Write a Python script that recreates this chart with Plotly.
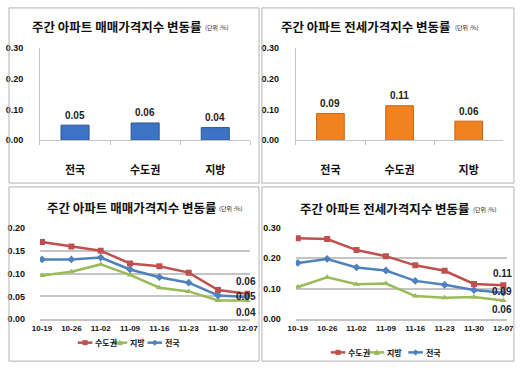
import plotly.graph_objects as go

# ---------------- data ----------------
bar_categories = ["전국", "수도권", "지방"]
sale_bar_values = [0.049, 0.056, 0.041]
jeonse_bar_values = [0.087, 0.112, 0.062]

weeks = ["10-19", "10-26", "11-02", "11-09", "11-16", "11-23", "11-30", "12-07"]
series_names = ["수도권", "지방", "전국"]
sale_capital = [0.169, 0.159, 0.150, 0.122, 0.116, 0.102, 0.064, 0.056]
sale_regional = [0.096, 0.104, 0.120, 0.097, 0.069, 0.061, 0.041, 0.041]
sale_national = [0.131, 0.131, 0.135, 0.109, 0.092, 0.080, 0.052, 0.049]
jeonse_capital = [0.266, 0.263, 0.227, 0.207, 0.177, 0.159, 0.116, 0.112]
jeonse_regional = [0.106, 0.138, 0.115, 0.117, 0.076, 0.071, 0.073, 0.062]
jeonse_national = [0.185, 0.198, 0.170, 0.160, 0.126, 0.113, 0.096, 0.087]

title_sale = "주간 아파트 매매가격지수 변동률"
title_jeonse = "주간 아파트 전세가격지수 변동률"
unit_text = "(단위 :%)"

# ---------------- style ----------------
W, H = 520, 371
KR = "Noto Sans CJK KR"
NUM = "Liberation Sans"
RED, GREEN, BLUE = "#c0504d", "#9bbb59", "#4f81bd"
GRID = "#c4c4c4"
BORDER = "#b3b3b3"


def X(px):
    return px / W


def Y(py):
    return 1 - py / H


fig = go.Figure()

# bars
fig.add_trace(go.Bar(x=bar_categories, y=sale_bar_values, width=0.4,
                     marker=dict(color="#3d73c4", line=dict(color="#2a5596", width=1)),
                     xaxis="x", yaxis="y", showlegend=False, hoverinfo="skip"))
fig.add_trace(go.Bar(x=bar_categories, y=jeonse_bar_values, width=0.4,
                     marker=dict(color="#f2821f", line=dict(color="#c8620f", width=1)),
                     xaxis="x2", yaxis="y2", showlegend=False, hoverinfo="skip"))

line_sets = [
    ("x3", "y3", [sale_capital, sale_regional, sale_national], [12, -12, 0]),
    ("x4", "y4", [jeonse_capital, jeonse_regional, jeonse_national], [12, -9, 1]),
]
colors = [RED, GREEN, BLUE]
symbols = ["square", "triangle-up", "diamond"]
annotations = []
for xa, ya, sets, shifts in line_sets:
    for name, vals, c, s, shift in zip(series_names, sets, colors, symbols, shifts):
        fig.add_trace(go.Scatter(x=weeks, y=vals, mode="lines+markers", name=name,
                                 line=dict(color=c, width=2.5),
                                 marker=dict(symbol=s, size=6, color=c),
                                 xaxis=xa, yaxis=ya, showlegend=False, hoverinfo="skip"))
        annotations.append(dict(x=weeks[-1], y=vals[-1], xref=xa, yref=ya,
                                text=f"{vals[-1]:.2f}", showarrow=False, yshift=shift, xshift=-1,
                                font=dict(family=NUM, size=10, color="#222", weight="bold")))

# bar value labels
for xa, ya, vals in [("x", "y", sale_bar_values), ("x2", "y2", jeonse_bar_values)]:
    for cat, v in zip(bar_categories, vals):
        annotations.append(dict(x=cat, y=v, xref=xa, yref=ya, text=f"{v:.2f}",
                                showarrow=False, yshift=10,
                                font=dict(family=NUM, size=10, color="#222", weight="bold")))

# titles
for title, cx, cy, ux in [(title_sale, 112, 22.5, 201), (title_jeonse, 369, 22.5, 459),
                          (title_sale, 128, 208, 216), (title_jeonse, 389, 209, 478)]:
    annotations.append(dict(x=X(cx), y=Y(cy), xref="paper", yref="paper", text=title,
                            showarrow=False, xanchor="center", yanchor="middle",
                            font=dict(family=KR, size=12.5, color="#111", weight="bold")))
    annotations.append(dict(x=X(ux), y=Y(cy + 1), xref="paper", yref="paper", text=unit_text,
                            showarrow=False, xanchor="left", yanchor="middle",
                            font=dict(family=KR, size=6, color="#222")))

# panel borders
shapes = []
for x0, y0, x1, y1 in [(1, 3, 259, 183), (262, 3, 522, 183), (1, 187, 259, 366), (262, 187, 522, 366)]:
    shapes.append(dict(type="rect", xref="paper", yref="paper", x0=X(x0), x1=X(x1),
                       y0=Y(y1), y1=Y(y0), line=dict(color=BORDER, width=1)))

# manual legends
def legend(starts, cy):
    for name, c, s, sx in zip(series_names, colors, symbols, starts):
        shapes.append(dict(type="line", xref="paper", yref="paper", x0=X(sx), x1=X(sx + 15),
                           y0=Y(cy), y1=Y(cy), line=dict(color=c, width=2.5)))
        mx = sx + 7.5
        r = 2.6
        if s == "square":
            shapes.append(dict(type="rect", xref="paper", yref="paper", x0=X(mx - r), x1=X(mx + r),
                               y0=Y(cy + r), y1=Y(cy - r), fillcolor=c, line=dict(width=0)))
        elif s == "triangle-up":
            path = f"M {X(mx - r - .5)} {Y(cy + r)} L {X(mx + r + .5)} {Y(cy + r)} L {X(mx)} {Y(cy - r - .5)} Z"
            shapes.append(dict(type="path", xref="paper", yref="paper", path=path,
                               fillcolor=c, line=dict(width=0)))
        else:
            path = f"M {X(mx - r - .5)} {Y(cy)} L {X(mx)} {Y(cy - r - .5)} L {X(mx + r + .5)} {Y(cy)} L {X(mx)} {Y(cy + r + .5)} Z"
            shapes.append(dict(type="path", xref="paper", yref="paper", path=path,
                               fillcolor=c, line=dict(width=0)))
        annotations.append(dict(x=X(sx + 16), y=Y(cy), xref="paper", yref="paper", text=name,
                                showarrow=False, xanchor="left", yanchor="middle",
                                font=dict(family=KR, size=8, color="#111", weight="bold")))


legend([72, 108, 144], 347)
legend([333, 373, 413], 357)

numfont = dict(family=NUM, size=9, color="#111", weight="bold")
bar_x = dict(type="category", range=[-0.5, 2.5], showline=True, linecolor=GRID, ticks="outside",
             tickson="boundaries", ticklen=4, tickcolor=GRID, showgrid=False,
             tickfont=dict(family=KR, size=11, color="#111", weight="bold"), ticklabelstandoff=20)
bar_y = dict(range=[0, 0.3], dtick=0.1, tickformat=".2f", showgrid=False, showline=True,
             linecolor=GRID, zeroline=False, tickfont=numfont, ticklabelstandoff=14)
line_x = dict(type="category", showgrid=False, showline=True, linecolor=GRID, linewidth=1.5,
              ticks="", tickfont=dict(family=NUM, size=8, color="#111", weight="bold"))
line_y = dict(showgrid=True, gridcolor=GRID, gridwidth=1.5, tickformat=".2f", zeroline=False,
              showline=False, tickfont=numfont, ticklabelstandoff=14)

fig.update_layout(
    width=W, height=H, margin=dict(l=0, r=0, t=0, b=0),
    paper_bgcolor="white", plot_bgcolor="white", bargap=0.6,
    xaxis=dict(bar_x, domain=[X(33), X(250)], anchor="y"),
    yaxis=dict(bar_y, domain=[Y(139), Y(44)], anchor="x"),
    xaxis2=dict(bar_x, domain=[X(297), X(511)], anchor="y2"),
    yaxis2=dict(bar_y, domain=[Y(139), Y(44)], anchor="x2"),
    xaxis3=dict(line_x, domain=[X(33), X(250)], range=[-0.07, 7.1], anchor="y3"),
    yaxis3=dict(line_y, domain=[Y(323), Y(229)], range=[0, 0.2], dtick=0.05, anchor="x3"),
    xaxis4=dict(line_x, domain=[X(297), X(515)], range=[-0.066, 7.13], anchor="y4"),
    yaxis4=dict(line_y, domain=[Y(323), Y(229)], range=[0, 0.3], dtick=0.1, anchor="x4"),
    annotations=annotations, shapes=shapes, showlegend=False,
)

fig.write_html("out.html", config={"displayModeBar": False},
               post_script="document.body.style.margin='0';document.body.style.overflow='hidden';")
